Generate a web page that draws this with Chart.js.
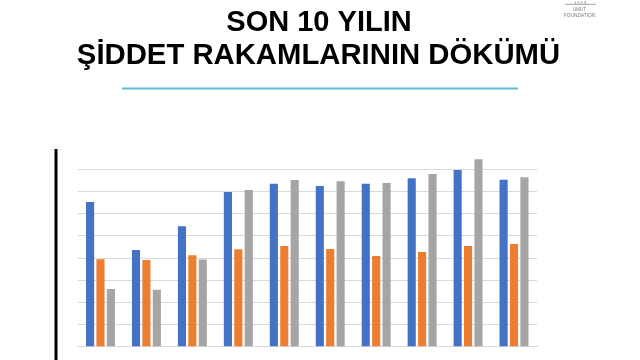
<!DOCTYPE html>
<html lang="tr">
<head>
<meta charset="utf-8">
<title>Şiddet Rakamları</title>
<script src="https://cdn.jsdelivr.net/npm/chart.js@4.4.1/dist/chart.umd.min.js"></script>
<style>
  html, body { margin: 0; padding: 0; background: #ffffff; }
  #wrap { position: relative; width: 640px; height: 360px; overflow: hidden; }
  canvas { display: block; }
</style>
</head>
<body>
<div id="wrap"><canvas id="chart" width="640" height="360"></canvas></div>
<script>
// Yıllar ve üç seri (ızgara birimi cinsinden değerler)
const years   = ['2010', '2011', '2012', '2013', '2014', '2015', '2016', '2017', '2018', '2019'];
const series1 = [6.53, 4.36, 5.43, 6.98, 7.35, 7.25, 7.35, 7.60, 7.97, 7.53];
const series2 = [3.94, 3.91, 4.12, 4.39, 4.54, 4.41, 4.09, 4.27, 4.54, 4.63];
const series3 = [2.60, 2.57, 3.93, 7.07, 7.52, 7.46, 7.38, 7.79, 8.45, 7.64];
const titleLines = ['SON 10 YILIN', 'ŞİDDET RAKAMLARININ DÖKÜMÜ'];
const logoLines = ['1 9 9 3', 'UMUT', 'FOUNDATION'];

const FONT = '"Liberation Sans", Arial, sans-serif';

// Slayt başlığı ve süslemeleri: başlık, altındaki çizgi, sol dikey çizgi ve logo
const slideDecor = {
  id: 'slideDecor',
  afterDraw(chart) {
    const ctx = chart.ctx;
    ctx.save();
    // başlık
    ctx.fillStyle = '#000000';
    ctx.textAlign = 'center';
    ctx.textBaseline = 'alphabetic';
    ctx.font = 'bold 29px ' + FONT;
    ctx.fillText(titleLines[0], 319, 31);
    ctx.save();
    ctx.translate(318.5, 64);
    ctx.scale(1.01, 1.02);
    ctx.fillText(titleLines[1], 0, 0);
    ctx.restore();
    // başlık altındaki mavi çizgi
    ctx.strokeStyle = '#5dbcd2';
    ctx.lineWidth = 2;
    ctx.beginPath();
    ctx.moveTo(122, 88.5);
    ctx.lineTo(518, 88.5);
    ctx.stroke();
    // sol kenardaki siyah dikey çizgi
    ctx.strokeStyle = '#000000';
    ctx.lineWidth = 3;
    ctx.beginPath();
    ctx.moveTo(56, 149);
    ctx.lineTo(56, 362);
    ctx.stroke();
    // logo
    ctx.fillStyle = '#7a7a7a';
    ctx.font = '4px ' + FONT;
    ctx.fillText(logoLines[0], 580, 3.5);
    ctx.strokeStyle = '#7a7a7a';
    ctx.lineWidth = 0.7;
    ctx.beginPath();
    ctx.moveTo(565, 4.3);
    ctx.lineTo(596, 4.3);
    ctx.stroke();
    ctx.font = '4.5px ' + FONT;
    ctx.fillText(logoLines[1], 579.5, 10.5);
    ctx.font = '4.8px ' + FONT;
    ctx.fillText(logoLines[2], 579.5, 16.5);
    ctx.restore();
  }
};

const barStyle = { barPercentage: 0.78, categoryPercentage: 0.68, clip: false, borderWidth: 0 };

new Chart(document.getElementById('chart'), {
  type: 'bar',
  data: {
    labels: years,
    datasets: [
      Object.assign({ label: 'Seri 1', data: series1, backgroundColor: '#4472c4' }, barStyle),
      Object.assign({ label: 'Seri 2', data: series2, backgroundColor: '#ed7d31' }, barStyle),
      Object.assign({ label: 'Seri 3', data: series3, backgroundColor: '#a5a5a5' }, barStyle)
    ]
  },
  plugins: [slideDecor],
  options: {
    responsive: false,
    animation: false,
    layout: { padding: { left: 77.5, right: 103, top: 169.3, bottom: 0 } },
    plugins: {
      legend: { display: false },
      tooltip: { enabled: false },
      title: { display: false }
    },
    scales: {
      x: {
        grid: { display: false },
        border: { display: true, color: '#d9d9d9', width: 1 },
        ticks: { color: '#c8c8c8', font: { family: FONT, size: 10 }, padding: 10 },
        afterFit(scale) { scale.height = 13.3; }
      },
      y: {
        min: 0,
        max: 8,
        ticks: { display: false, stepSize: 1 },
        grid: { color: '#d9d9d9', lineWidth: 1, drawTicks: false },
        border: { display: false },
        afterFit(scale) { scale.width = 0; }
      }
    }
  }
});
</script>
</body>
</html>
